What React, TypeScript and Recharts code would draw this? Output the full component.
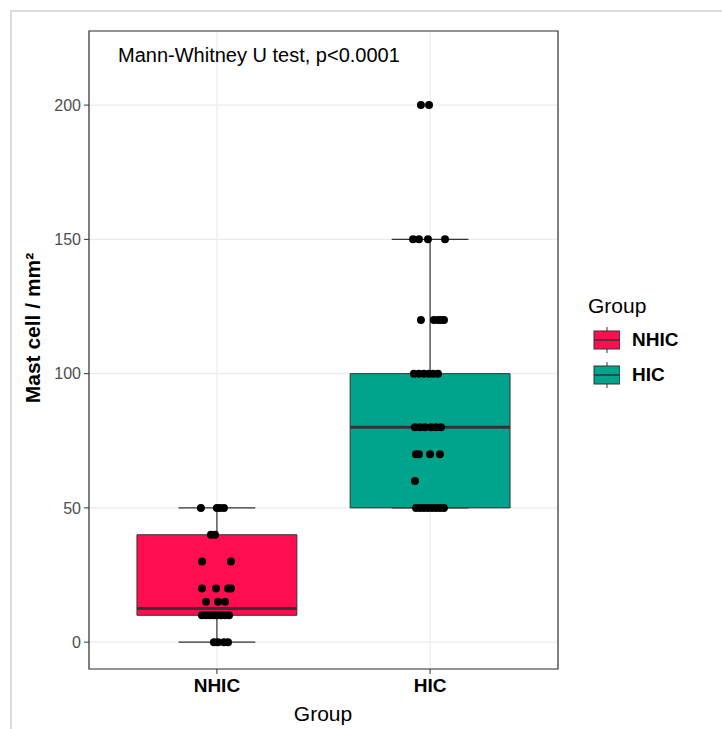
import React from 'react';
import {
  ComposedChart,
  Scatter,
  XAxis,
  YAxis,
  CartesianGrid,
  ReferenceArea,
  ReferenceLine,
} from 'recharts';

// ---- data ----
const categories = ['NHIC', 'HIC'];
const categoryPos = [1, 2];
const boxColors = ['#FF0F4F', '#00A38B'];
const q1 = [10, 50];
const medians = [12.5, 80];
const q3 = [40, 100];
const whiskerLow = [0, 50];
const whiskerHigh = [50, 150];
const yTicks = [0, 50, 100, 150, 200];

// jittered points (x = category position + jitter, y = value)
const nhicX = [
  0.925, 1.0, 1.014, 1.033,
  0.972, 0.991,
  0.93, 1.066,
  0.93, 0.996, 1.052, 1.066,
  0.949, 1.005, 1.038,
  0.93, 0.949, 0.968, 0.986, 1.0, 1.019, 1.038, 1.057,
  0.986, 1.005, 1.033, 1.052,
];
const nhicY = [
  50, 50, 50, 50,
  40, 40,
  30, 30,
  20, 20, 20, 20,
  15, 15, 15,
  10, 10, 10, 10, 10, 10, 10, 10,
  0, 0, 0, 0,
];
const hicX = [
  1.957, 1.995,
  1.92, 1.948, 1.99, 2.07,
  1.957, 2.018, 2.037, 2.051, 2.065,
  1.924, 1.948, 1.971, 1.995, 2.014, 2.037,
  1.929, 1.953, 1.976, 2.004, 2.028, 2.051,
  1.934, 1.948, 2.0, 2.046,
  1.929,
  1.934, 1.953, 1.971, 1.99, 2.009, 2.028, 2.046, 2.065,
];
const hicY = [
  200, 200,
  150, 150, 150, 150,
  120, 120, 120, 120, 120,
  100, 100, 100, 100, 100, 100,
  80, 80, 80, 80, 80, 80,
  70, 70, 70, 70,
  60,
  50, 50, 50, 50, 50, 50, 50, 50,
];

const annotation = 'Mann-Whitney U test, p<0.0001';
const yTitle = 'Mast cell / mm²';
const xTitle = 'Group';
const legendTitle = 'Group';

const points = [
  ...nhicX.map((x, i) => ({ x, y: nhicY[i] })),
  ...hicX.map((x, i) => ({ x, y: hicY[i] })),
];

const FONT = '"Liberation Sans", Arial, sans-serif';
const BOX_HALF = 0.375;
const CAP_HALF = 0.18;
const LINE = '#333333';

const Dot = (props: any) => {
  const { cx, cy } = props;
  if (cx == null || cy == null) return null;
  return <circle cx={cx} cy={cy} r={4} fill="#000" />;
};

const LegendContent = () => (
  <div style={{ fontFamily: FONT, color: '#000' }}>
    <div style={{ fontSize: 21, lineHeight: '24px', marginLeft: 8 }}>{legendTitle}</div>
    {categories.map((c, i) => (
      <div key={c} style={{ display: 'flex', alignItems: 'center', height: 35, marginTop: i === 0 ? 4 : 0 }}>
        <svg width={40} height={32} style={{ display: 'block' }}>
          <line x1={27} x2={27} y1={3} y2={29} stroke={LINE} strokeWidth={1} />
          <rect x={14} y={7} width={26} height={18} fill={boxColors[i]} stroke={LINE} strokeWidth={1} />
          <line x1={14} x2={40} y1={16} y2={16} stroke={LINE} strokeWidth={1.5} />
        </svg>
        <span style={{ fontSize: 19, fontWeight: 'bold', marginLeft: 12 }}>{c}</span>
      </div>
    ))}
  </div>
);

export default function App() {
  return (
    <div
      style={{
        position: 'fixed',
        left: 0,
        top: 0,
        width: 722,
        height: 729,
        overflow: 'hidden',
        background: '#fff',
        fontFamily: FONT,
      }}
    >
      <div
        style={{
          position: 'absolute',
          left: 10,
          top: 10,
          width: 712,
          height: 719,
          borderLeft: '2px solid #DCDCDC',
          borderTop: '2px solid #DCDCDC',
        }}
      />
      <ComposedChart
        width={722}
        height={729}
        margin={{ top: 31, right: 164, bottom: 30, left: 39 }}
        style={{ position: 'absolute', left: 0, top: 0 }}
      >
        <CartesianGrid stroke="#EBEBEB" strokeWidth={1.2} />
        <XAxis
          type="number"
          dataKey="x"
          domain={[0.4, 2.6]}
          ticks={categoryPos}
          allowDataOverflow
          tickFormatter={(v: number) => categories[categoryPos.indexOf(v)] ?? ''}
          tick={{ fill: '#000', fontSize: 19, fontWeight: 'bold', fontFamily: FONT }}
          tickSize={5}
          tickMargin={5}
          height={30}
          axisLine={false}
          tickLine={{ stroke: LINE }}
        />
        <YAxis
          type="number"
          dataKey="y"
          domain={[-10, 227.6]}
          ticks={yTicks}
          allowDataOverflow
          tick={{ fill: '#4D4D4D', fontSize: 16, fontFamily: FONT }}
          tickSize={5}
          tickMargin={3}
          width={50}
          axisLine={false}
          tickLine={{ stroke: LINE }}
        />
        {categoryPos.map((p, i) => (
          <ReferenceArea
            key={'box' + i}
            x1={p - BOX_HALF}
            x2={p + BOX_HALF}
            y1={q1[i]}
            y2={q3[i]}
            fill={boxColors[i]}
            fillOpacity={1}
            stroke={LINE}
            strokeWidth={1}
          />
        ))}
        {categoryPos.map((p, i) => (
          <ReferenceLine
            key={'wu' + i}
            segment={[{ x: p, y: q3[i] }, { x: p, y: whiskerHigh[i] }]}
            stroke={LINE}
            strokeWidth={1.2}
          />
        ))}
        {categoryPos.map((p, i) => (
          <ReferenceLine
            key={'wl' + i}
            segment={[{ x: p, y: q1[i] }, { x: p, y: whiskerLow[i] }]}
            stroke={LINE}
            strokeWidth={1.2}
          />
        ))}
        {categoryPos.map((p, i) => (
          <ReferenceLine
            key={'cu' + i}
            segment={[{ x: p - CAP_HALF, y: whiskerHigh[i] }, { x: p + CAP_HALF, y: whiskerHigh[i] }]}
            stroke={LINE}
            strokeWidth={1.2}
          />
        ))}
        {categoryPos.map((p, i) => (
          <ReferenceLine
            key={'cl' + i}
            segment={[{ x: p - CAP_HALF, y: whiskerLow[i] }, { x: p + CAP_HALF, y: whiskerLow[i] }]}
            stroke={LINE}
            strokeWidth={1.2}
          />
        ))}
        {categoryPos.map((p, i) => (
          <ReferenceLine
            key={'med' + i}
            segment={[{ x: p - BOX_HALF, y: medians[i] }, { x: p + BOX_HALF, y: medians[i] }]}
            stroke={LINE}
            strokeWidth={3}
          />
        ))}
        <ReferenceArea
          x1={0.4}
          x2={2.6}
          y1={-10}
          y2={227.6}
          fill="none"
          fillOpacity={0}
          stroke={LINE}
          strokeWidth={1.2}
        />
        <Scatter data={points} dataKey="y" fill="#000" shape={<Dot />} isAnimationActive={false} />
      </ComposedChart>
      <div style={{ position: 'absolute', left: 580, top: 294, width: 140 }}>
        <LegendContent />
      </div>
      <div
        style={{
          position: 'absolute',
          left: 118,
          top: 43,
          fontSize: 20,
          lineHeight: '24px',
          color: '#000',
          whiteSpace: 'nowrap',
        }}
      >
        {annotation}
      </div>
      <div
        style={{
          position: 'absolute',
          left: 323,
          top: 714,
          transform: 'translate(-50%, -50%)',
          fontSize: 21,
          color: '#000',
          whiteSpace: 'nowrap',
        }}
      >
        {xTitle}
      </div>
      <div
        style={{
          position: 'absolute',
          left: 33,
          top: 328,
          transform: 'translate(-50%, -50%) rotate(-90deg)',
          fontSize: 21,
          fontWeight: 'bold',
          color: '#000',
          whiteSpace: 'nowrap',
        }}
      >
        {yTitle}
      </div>
    </div>
  );
}
